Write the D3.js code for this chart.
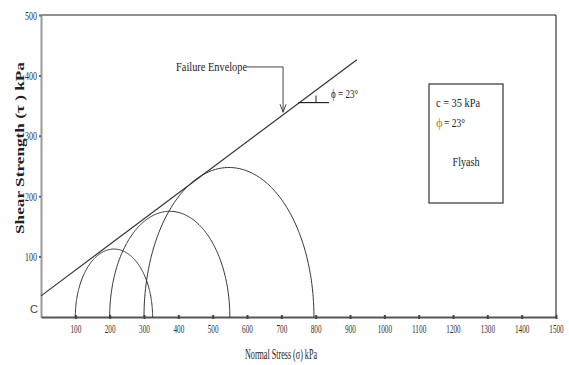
<!DOCTYPE html>
<html>
<head>
<meta charset="utf-8">
<script src="https://cdn.jsdelivr.net/npm/d3@7"></script>
<style>
  body { margin: 0; background: #fff; }
  text { font-family: "Liberation Serif", "DejaVu Serif", serif; fill: #222; }
</style>
</head>
<body>
<svg width="569" height="365"></svg>
<script>
// data
var xTicks = [100, 200, 300, 400, 500, 600, 700, 800, 900, 1000, 1100, 1200, 1300, 1400, 1500];
var yTicks = [100, 200, 300, 400, 500];
// Mohr circles: minor / major principal stress (kPa)
var sigma3 = [100, 200, 300];
var sigma1 = [325, 550, 795];
// failure envelope end points (sigma, tau)
var envSigma = [0, 920];
var envTau = [35, 426];
var cohesion = 35;
var phi = 23;

var svg = d3.select("svg");

var xScale = d3.scaleLinear().domain([0, 1500]).range([41, 556]);
var yScale = d3.scaleLinear().domain([0, 500]).range([317, 15]);

// frame: top and right
svg.append("line")
    .attr("x1", xScale(0)).attr("x2", xScale(1500))
    .attr("y1", yScale(500)).attr("y2", yScale(500))
    .attr("stroke", "#222").attr("stroke-width", 1.2);
svg.append("line")
    .attr("x1", xScale(1500)).attr("x2", xScale(1500))
    .attr("y1", yScale(500)).attr("y2", yScale(0) + 1)
    .attr("stroke", "#333").attr("stroke-width", 1.2);

// y axis
var yAxis = d3.axisLeft(yScale).tickValues(yTicks).tickFormat(d3.format("d"))
    .tickSize(2).tickSizeOuter(0).tickPadding(2);
var gy = svg.append("g").attr("transform", "translate(" + xScale(0) + ",0)").call(yAxis);
gy.select(".domain").attr("stroke", "#999").attr("stroke-width", 2);
gy.selectAll(".tick line").attr("stroke", "#666").attr("stroke-width", 2);
gy.selectAll(".tick text")
    .style("font-family", "Liberation Serif").style("font-size", "13px").style("fill", "#333")
    .attr("textLength", d => String(d).length * 4).attr("lengthAdjust", "spacingAndGlyphs");

// x axis
var xAxis = d3.axisBottom(xScale).tickValues(xTicks).tickFormat(d3.format("d"))
    .tickSize(2).tickSizeOuter(0).tickPadding(5);
var gx = svg.append("g").attr("transform", "translate(0," + yScale(0) + ")").call(xAxis);
gx.select(".domain").attr("stroke", "#555").attr("stroke-width", 2);
gx.selectAll(".tick line").attr("stroke", "#444").attr("stroke-width", 2).attr("y1", -2);
gx.selectAll(".tick text")
    .style("font-family", "Liberation Serif").style("font-size", "13px").style("fill", "#333")
    .attr("textLength", d => String(d).length * 3.6).attr("lengthAdjust", "spacingAndGlyphs");

// "C" on y axis
svg.append("text")
    .attr("x", xScale(0) - 3).attr("y", yScale(cohesion) + 17)
    .style("text-anchor", "end").style("font-family", "Liberation Sans").style("font-size", "11px")
    .style("fill", "#444").text("C");

// Mohr circles (upper half)
var arc = d3.line().x(p => xScale(p[0])).y(p => yScale(p[1]));
sigma3.forEach(function (s3, i) {
    var s1 = sigma1[i];
    var c = (s1 + s3) / 2, r = (s1 - s3) / 2;
    var pts = d3.range(0, 181).map(a => {
        var t = Math.PI * a / 180;
        return [c - r * Math.cos(t), r * Math.sin(t)];
    });
    svg.append("path").attr("d", arc(pts))
        .attr("fill", "none").attr("stroke", "#333").attr("stroke-width", 1);
});

// failure envelope
svg.append("line")
    .attr("x1", xScale(envSigma[0])).attr("y1", yScale(envTau[0]))
    .attr("x2", xScale(envSigma[1])).attr("y2", yScale(envTau[1]))
    .attr("stroke", "#333").attr("stroke-width", 1.2);

// "Failure Envelope" call-out
var ldrX = xScale(705), ldrY = yScale(414), tipY = yScale(339);
svg.append("text")
    .attr("x", ldrX - 36).attr("y", ldrY + 4)
    .style("text-anchor", "end").style("font-size", "13px")
    .attr("textLength", 71).attr("lengthAdjust", "spacingAndGlyphs")
    .text("Failure Envelope");
svg.append("polyline")
    .attr("points", [[ldrX - 36, ldrY], [ldrX, ldrY], [ldrX, tipY]].join(" "))
    .attr("fill", "none").attr("stroke", "#444").attr("stroke-width", 1);
svg.append("polyline")
    .attr("points", [[ldrX - 3, tipY - 8], [ldrX, tipY], [ldrX + 3, tipY - 8]].join(" "))
    .attr("fill", "none").attr("stroke", "#444").attr("stroke-width", 1);

// angle marker
var angY = yScale(355);
svg.append("line")
    .attr("x1", xScale(749)).attr("x2", xScale(839))
    .attr("y1", angY).attr("y2", angY)
    .attr("stroke", "#222").attr("stroke-width", 1.2);
svg.append("line")
    .attr("x1", xScale(801)).attr("x2", xScale(801))
    .attr("y1", angY - 7).attr("y2", angY)
    .attr("stroke", "#222").attr("stroke-width", 1);
svg.append("text")
    .attr("x", xScale(845)).attr("y", angY - 5)
    .style("font-size", "13px")
    .attr("textLength", 27).attr("lengthAdjust", "spacingAndGlyphs")
    .text("\u03d5 = " + phi + "\u00b0");

// info box
svg.append("rect")
    .attr("x", 429).attr("y", 84).attr("width", 74).attr("height", 119)
    .attr("fill", "none").attr("stroke", "#333").attr("stroke-width", 1.2);
svg.append("text")
    .attr("x", 436).attr("y", 107).style("font-size", "13px")
    .attr("textLength", 44).attr("lengthAdjust", "spacingAndGlyphs")
    .text("c = " + cohesion + " kPa");
svg.append("text")
    .attr("x", 436).attr("y", 127).style("font-size", "13px")
    .style("fill", "#c8862a")
    .text("\u03d5");
svg.append("text")
    .attr("x", 444).attr("y", 127).style("font-size", "13px")
    .attr("textLength", 21).attr("lengthAdjust", "spacingAndGlyphs")
    .text("= " + phi + "\u00b0");
svg.append("text")
    .attr("x", 466).attr("y", 166).style("text-anchor", "middle").style("font-size", "13px")
    .attr("textLength", 27).attr("lengthAdjust", "spacingAndGlyphs")
    .text("Flyash");

// axis titles
svg.append("text")
    .attr("x", 281).attr("y", 359)
    .style("text-anchor", "middle").style("font-size", "14px")
    .attr("textLength", 72).attr("lengthAdjust", "spacingAndGlyphs")
    .text("Normal Stress  (\u03c3) kPa");
svg.append("text")
    .attr("transform", "rotate(-90)")
    .attr("x", -148).attr("y", 24)
    .style("text-anchor", "middle").style("font-size", "12px").style("font-weight", "bold")
    .attr("textLength", 172).attr("lengthAdjust", "spacingAndGlyphs")
    .text("Shear Strength  (\u03c4 ) kPa");
</script>
</body>
</html>
